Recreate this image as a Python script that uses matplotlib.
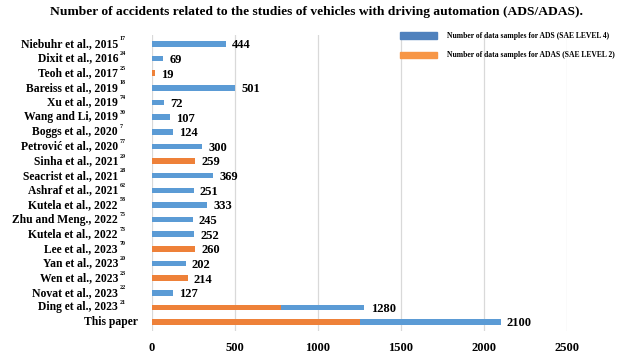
import matplotlib
matplotlib.use("Agg")
import matplotlib.pyplot as plt
from matplotlib.patches import Rectangle

names = ["Niebuhr et al., 2015", "Dixit et al., 2016", "Teoh et al., 2017", "Bareiss et al., 2019",
         "Xu et al., 2019", "Wang and Li, 2019", "Boggs et al., 2020", "Petrović et al., 2020",
         "Sinha et al., 2021", "Seacrist et al., 2021", "Ashraf et al., 2021", "Kutela et al., 2022",
         "Zhu and Meng., 2022", "Kutela et al., 2022", "Lee et al., 2023", "Yan et al., 2023",
         "Wen et al., 2023", "Novat et al., 2023", "Ding et al., 2023", "This paper"]
refs = ["17", "24", "25", "18", "74", "30", "7", "77", "29", "28", "62", "58", "75", "73",
        "70", "20", "23", "22", "21", ""]
ads = [444, 69, 0, 501, 72, 107, 124, 300, 0, 369, 251, 333, 245, 252, 0, 202, 0, 127, 500, 850]
adas = [0, 0, 19, 0, 0, 0, 0, 0, 259, 0, 0, 0, 0, 0, 260, 0, 214, 0, 780, 1250]
xticks = [0, 500, 1000, 1500, 2000, 2500]
title = "Number of accidents related to the studies of vehicles with driving automation (ADS/ADAS)."
leg_labels = ["Number of data samples for ADS (SAE LEVEL 4)", "Number of data samples for ADAS (SAE LEVEL 2)"]

BLUE = "#5B9BD5"
ORANGE = "#EE8139"
LEG_BLUE = "#4F81BD"
LEG_ORANGE = "#F79646"
plt.rcParams['font.family'] = ['Liberation Serif', 'DejaVu Serif']
plt.rcParams['font.weight'] = 'bold'

W, H = 633, 357
fig = plt.figure(figsize=(W / 100, H / 100), dpi=100)
ax = fig.add_axes([152 / W, 1 - 330.8 / H, (567 - 152) / W, (330.8 - 35.2) / H])

y = list(range(len(names)))
ax.barh(y, adas, height=0.38, color=ORANGE, zorder=3)
ax.barh(y, ads, left=adas, height=0.38, color=BLUE, zorder=3)

for i in y:
    tot = ads[i] + adas[i]
    ax.annotate(str(tot), xy=(tot, i), xytext=(4.5, -1), textcoords="offset points",
                ha="left", va="center", fontsize=9, fontweight="bold")

ax.set_ylim(len(names) - 0.4, -0.6)
ax.set_xlim(0, 2500)
ax.set_xticks(xticks)
ax.set_xticklabels([str(v) for v in xticks], fontsize=9, fontweight="bold")
ax.tick_params(axis="x", length=0, pad=8)
ax.set_yticks([])
for s in ax.spines.values():
    s.set_visible(False)
ax.grid(axis="x", color="#D9D9D9", linewidth=0.9, zorder=0)
ax.set_axisbelow(True)

# category labels with superscript refs
for i in y:
    ypix = 1 - (44 + i * 14.63) / H
    if refs[i]:
        fig.text(118 / W, ypix, names[i], ha="right", va="center", fontsize=8.4, fontweight="bold")
        fig.text(120 / W, ypix + 5 / H, refs[i], ha="left", va="center", fontsize=4.3, fontweight="bold")
    else:
        fig.text(138 / W, ypix, names[i], ha="right", va="center", fontsize=8.4, fontweight="bold")

fig.text(317 / W, 1 - 12 / H, title, ha="center", va="center", fontsize=9.7, fontweight="bold")

# legend
for k, (col, lab) in enumerate(zip([LEG_BLUE, LEG_ORANGE], leg_labels)):
    yc = 35.5 + k * 19.5
    fig.patches.append(Rectangle((400 / W, 1 - (yc + 3) / H), 37 / W, 6 / H,
                                 transform=fig.transFigure, color=col, figure=fig))
    fig.text(447 / W, 1 - yc / H, lab, ha="left", va="center", fontsize=5.5, fontweight="bold")

fig.savefig("out.png", dpi=100)
